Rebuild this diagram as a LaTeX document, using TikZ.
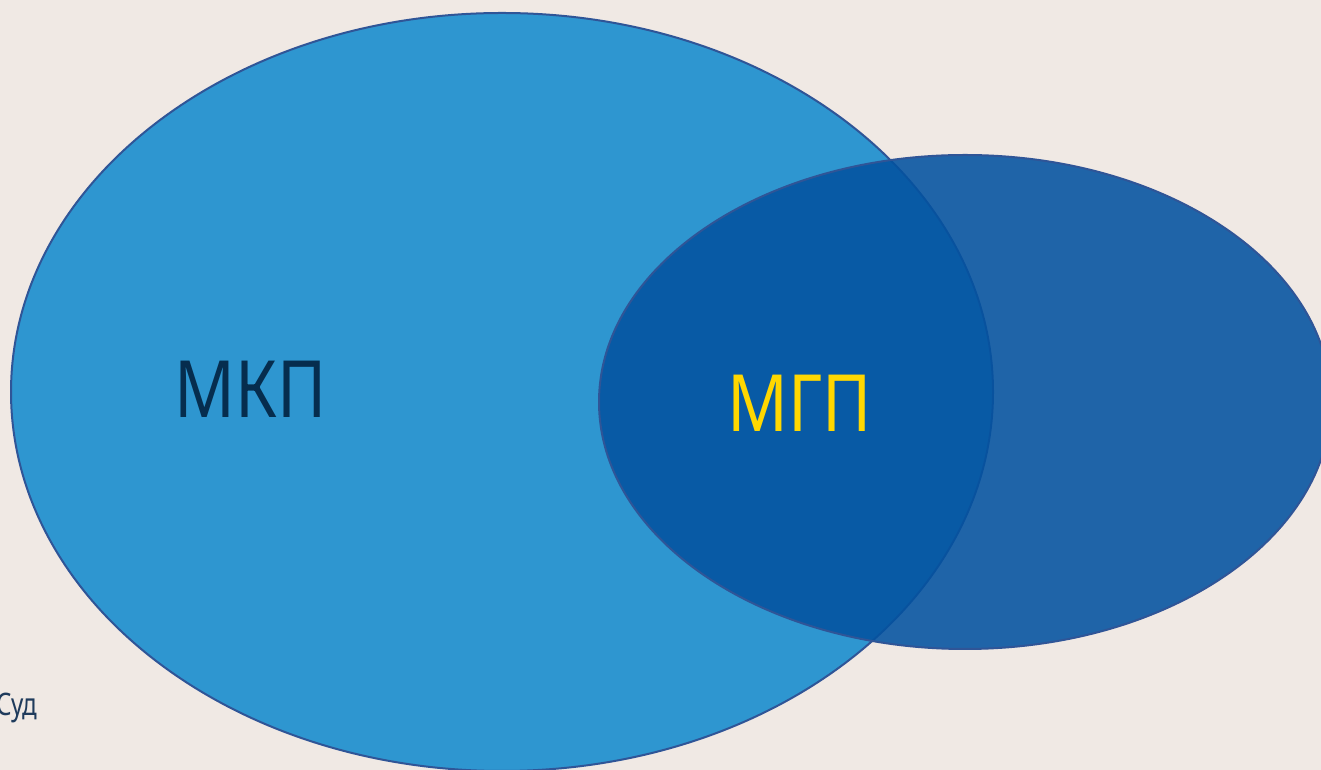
\documentclass[tikz,border=0pt]{standalone}
\usepackage{fontspec}
\setmainfont{Noto Sans}
\definecolor{bg}{HTML}{F0E9E4}
\definecolor{bigfill}{HTML}{2E96D0}
\definecolor{edge}{HTML}{2F5597}
\definecolor{smallfill}{HTML}{0352A0}
\definecolor{navy}{HTML}{062D4E}
\definecolor{gold}{HTML}{FFD700}
\definecolor{sudcol}{HTML}{1F3B5C}
\tikzset{
  bigtext/.style={font=\fontsize{79}{79}\selectfont, inner sep=0pt, xscale=0.85},
  oval/.style={draw=edge, line width=2pt}
}
\begin{document}
\begin{tikzpicture}[x=1pt,y=1pt]
\fill[bg] (0,0) rectangle (1321,770);
\useasboundingbox (0,0) rectangle (1321,770);
\draw[oval, fill=bigfill] (502,378) ellipse [x radius=491, y radius=379];
\draw[oval, fill=smallfill, fill opacity=0.88] (965,368) ellipse [x radius=366, y radius=247];
\node[bigtext, text=navy, anchor=base] (mkp) at (251,352) {МКП};
\node[bigtext, text=gold, anchor=base] (mgp) at (800,338) {МГП};
\node[font=\fontsize{31}{31}\selectfont, text=sudcol, anchor=base west, inner sep=0pt, xscale=0.78] (sud) at (-4,54) {Суд};
\end{tikzpicture}
\end{document}
